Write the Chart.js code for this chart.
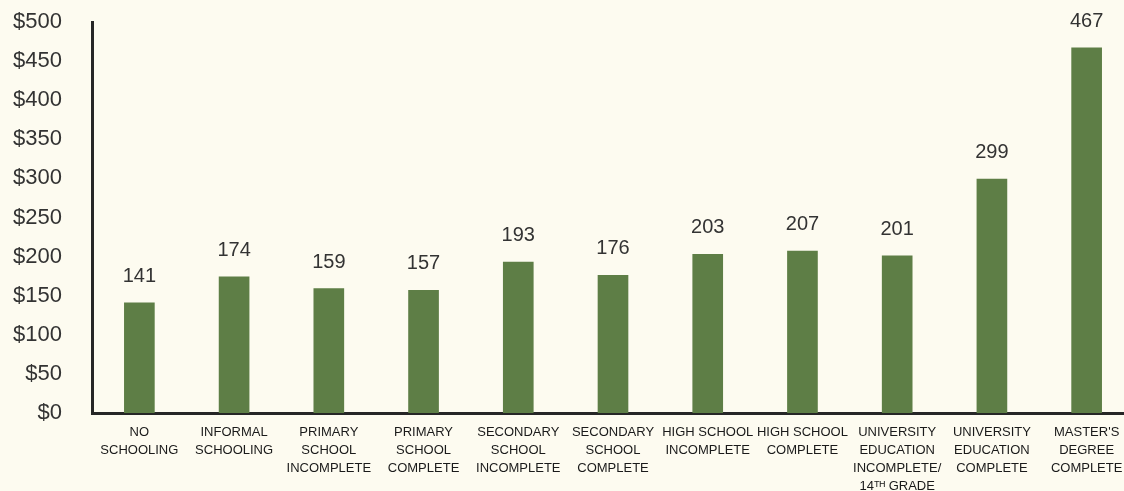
<!DOCTYPE html>
<html>
<head>
<meta charset="utf-8">
<title>Earnings by education</title>
<script src="https://cdn.jsdelivr.net/npm/chart.js@4.4.1/dist/chart.umd.min.js"></script>
<style>
    html, body {
        margin: 0;
        padding: 0;
        overflow: hidden;
        background: #fdfbf0;
    }
    #chart {
        display: block;
        background: #fdfbf0;
    }
</style>
</head>
<body>
<canvas id="chart" width="1134" height="491"></canvas>
<script>
const categories = [
    ['NO', 'SCHOOLING'],
    ['INFORMAL', 'SCHOOLING'],
    ['PRIMARY', 'SCHOOL', 'INCOMPLETE'],
    ['PRIMARY', 'SCHOOL', 'COMPLETE'],
    ['SECONDARY', 'SCHOOL', 'INCOMPLETE'],
    ['SECONDARY', 'SCHOOL', 'COMPLETE'],
    ['HIGH SCHOOL', 'INCOMPLETE'],
    ['HIGH SCHOOL', 'COMPLETE'],
    ['UNIVERSITY', 'EDUCATION', 'INCOMPLETE/', '14ᵀᴴ GRADE'],
    ['UNIVERSITY', 'EDUCATION', 'COMPLETE'],
    ["MASTER'S", 'DEGREE', 'COMPLETE']
];
const earnings = [141, 174, 159, 157, 193, 176, 203, 207, 201, 299, 467];
const yTicks = [0, 50, 100, 150, 200, 250, 300, 350, 400, 450, 500];

const FONT = "'Liberation Sans', Arial, sans-serif";

// values above each bar
const valueLabels = {
    id: 'valueLabels',
    afterDatasetsDraw(chart) {
        const ctx = chart.ctx;
        const meta = chart.getDatasetMeta(0);
        ctx.save();
        ctx.font = '20px ' + FONT;
        ctx.fillStyle = '#333333';
        ctx.textAlign = 'center';
        ctx.textBaseline = 'alphabetic';
        meta.data.forEach((bar, i) => {
            ctx.fillText(String(earnings[i]), bar.x, bar.y - 21);
        });
        ctx.restore();
    }
};

new Chart(document.getElementById('chart'), {
    type: 'bar',
    data: {
        labels: categories,
        datasets: [{
            data: earnings,
            backgroundColor: '#5e7e46',
            barThickness: 30
        }]
    },
    options: {
        responsive: false,
        animation: false,
        layout: { padding: { top: 22, left: 0, right: 0, bottom: 0 } },
        plugins: {
            legend: { display: false },
            tooltip: { enabled: false }
        },
        scales: {
            x: {
                offset: true,
                grid: { display: false, drawTicks: false },
                border: { display: true, color: '#262626', width: 3 },
                ticks: {
                    autoSkip: false,
                    maxRotation: 0,
                    minRotation: 0,
                    padding: 10,
                    color: '#1a1a1a',
                    font: { family: FONT, size: 13, lineHeight: 1.385 }
                },
                afterFit(scale) {
                    scale.height = 78;
                    scale.paddingLeft = 0;
                    scale.paddingRight = 0;
                }
            },
            y: {
                min: 0,
                max: 500,
                afterBuildTicks(scale) {
                    scale.ticks = yTicks.map(v => ({ value: v }));
                },
                grid: { display: false, drawTicks: false },
                border: { display: true, color: '#262626', width: 3 },
                ticks: {
                    padding: 30,
                    color: '#333333',
                    font: { family: FONT, size: 22 },
                    callback: v => '$' + v
                },
                afterFit(scale) {
                    scale.width = 92;
                    scale.paddingTop = 0;
                    scale.paddingBottom = 0;
                }
            }
        }
    },
    plugins: [valueLabels]
});
</script>
</body>
</html>
